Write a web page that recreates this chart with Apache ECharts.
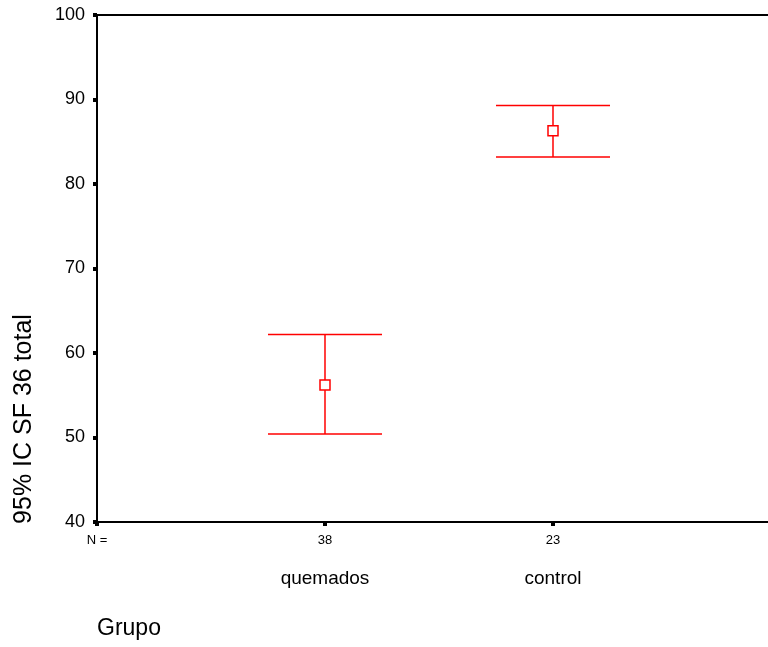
<!DOCTYPE html>
<html>
<head>
<meta charset="utf-8">
<script src="https://cdn.jsdelivr.net/npm/echarts@6/dist/echarts.min.js"></script>
<style>html,body{margin:0;padding:0;background:#fff;}#c{width:768px;height:647px;}</style>
</head>
<body>
<div id="c"></div>
<script>
var groups = ['quemados', 'control'];
var groupPos = [1, 2];
var counts = [38, 23];
var means = [56.2, 86.3];
var lower = [50.4, 83.2];
var upper = [62.2, 89.3];
var yTicks = [40, 50, 60, 70, 80, 90, 100];

var chart = echarts.init(document.getElementById('c'));
var FONT = '"Liberation Sans", Arial, sans-serif';
var data = groups.map(function (g, i) { return [groupPos[i], means[i], lower[i], upper[i]]; });

chart.setOption({
  animation: false,
  backgroundColor: '#fff',
  grid: { left: 97, top: 15, right: 0, bottom: 125, containLabel: false },
  xAxis: [{
    type: 'value', min: 0, max: 2.943, interval: 1,
    axisLine: { show: true, lineStyle: { color: '#000', width: 2 } },
    axisTick: { show: true, length: 4, lineStyle: { color: '#000', width: 4 } },
    splitLine: { show: false },
    axisLabel: {
      showMaxLabel: false, margin: 10, color: '#000', fontFamily: FONT,
      formatter: function (v) {
        if (v === 0) return '{n|N =}';
        var i = groupPos.indexOf(v);
        if (i < 0) return '';
        return '{n|' + counts[i] + '}\n{c|' + groups[i] + '}';
      },
      rich: {
        n: { fontSize: 13, lineHeight: 16, fontFamily: FONT, color: '#000' },
        c: { fontSize: 19, lineHeight: 62, fontFamily: FONT, color: '#000' }
      }
    }
  }, {
    type: 'value', position: 'top', min: 0, max: 2.943,
    axisLine: { show: true, lineStyle: { color: '#000', width: 2 } },
    axisTick: { show: false }, axisLabel: { show: false }, splitLine: { show: false }
  }],
  yAxis: {
    type: 'value', min: yTicks[0], max: yTicks[yTicks.length - 1], interval: 10,
    axisLine: { show: true, lineStyle: { color: '#000', width: 2 } },
    axisTick: { show: true, length: 4, lineStyle: { color: '#000', width: 4 } },
    splitLine: { show: false },
    axisLabel: { color: '#000', fontSize: 18, fontFamily: FONT, margin: 12 }
  },
  graphic: [
    { type: 'text', x: 24, y: 419, rotation: Math.PI / 2,
      style: { text: '95% IC SF 36 total', font: '25px ' + FONT, fill: '#000', align: 'center', verticalAlign: 'middle' } },
    { type: 'text', x: 97, y: 629,
      style: { text: 'Grupo', font: '23px ' + FONT, fill: '#000', align: 'left', verticalAlign: 'middle' } }
  ],
  series: [{
    type: 'custom',
    data: data,
    renderItem: function (params, api) {
      var x = api.value(0);
      var pm = api.coord([x, api.value(1)]);
      var pl = api.coord([x, api.value(2)]);
      var pu = api.coord([x, api.value(3)]);
      var hw = 57, s = 5;
      var st = { stroke: '#ff0000', lineWidth: 1.5, fill: null };
      return {
        type: 'group',
        children: [
          { type: 'line', shape: { x1: pm[0], y1: pu[1], x2: pm[0], y2: pl[1] }, style: st },
          { type: 'line', shape: { x1: pm[0] - hw, y1: pu[1], x2: pm[0] + hw, y2: pu[1] }, style: st },
          { type: 'line', shape: { x1: pm[0] - hw, y1: pl[1], x2: pm[0] + hw, y2: pl[1] }, style: st },
          { type: 'rect', shape: { x: pm[0] - s, y: pm[1] - s, width: 2 * s, height: 2 * s },
            style: { stroke: '#ff0000', lineWidth: 1.5, fill: '#fff' } }
        ]
      };
    }
  }]
});
</script>
</body>
</html>
